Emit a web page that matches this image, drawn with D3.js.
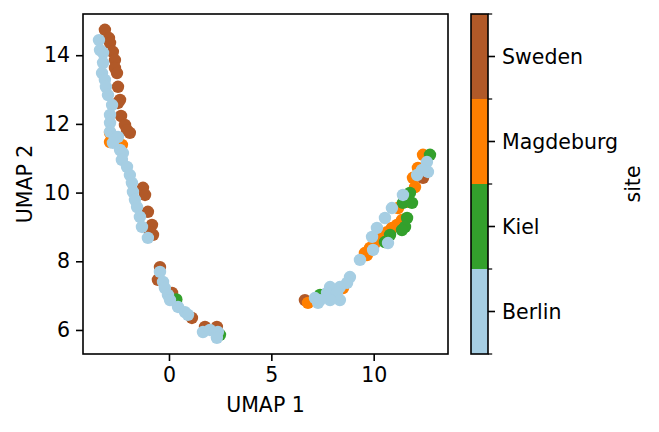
<!DOCTYPE html>
<html><head><meta charset="utf-8">
<script src="https://cdn.jsdelivr.net/npm/d3@7"></script>
<style>body{margin:0;background:#fff}svg{display:block}text{font-family:"DejaVu Sans",sans-serif;fill:#000}</style>
</head><body><svg id="c" width="659" height="432"></svg>
<script>
const sites = ["Berlin", "Kiel", "Magdeburg", "Sweden"];
const siteColors = ["#a6cee3", "#33a02c", "#ff7f00", "#b15928"];
const xTicks = [0, 5, 10];
const yTicks = [6, 8, 10, 12, 14];

const swedenX = [-3.13,-2.93,-2.88,-2.74,-2.64,-2.64,-2.54,-2.49,-2.39,-2.49,-2.34,-2.15,-1.91,-2.05,-1.27,-1.17,-1.03,-0.83,-0.78,-0.93,-0.44,-0.54,0.15,1.12,1.76,2.34,12.41,6.64];
const swedenY = [14.74,14.50,14.36,14.10,13.86,13.63,13.48,13.08,12.70,12.61,12.23,11.97,11.74,11.82,10.14,9.93,9.44,9.06,8.77,8.85,7.83,7.46,7.08,6.35,6.09,6.09,10.43,6.87];

const magdeburgX = [-2.88,-2.88,-2.30,12.41,12.16,11.92,12.02,11.63,11.19,11.38,11.14,10.89,10.65,10.31,10.06,9.82,9.67,9.57,8.50,6.79];
const magdeburgY = [11.74,11.47,11.39,11.10,10.72,10.43,10.16,9.73,9.55,9.20,9.06,8.97,8.85,8.68,8.53,8.39,8.18,8.24,7.22,6.79];

const kielX = [0.36,2.49,12.75,11.77,11.43,11.87,11.63,11.53,11.38,10.80,10.55,7.38];
const kielY = [6.89,5.86,11.10,9.99,9.70,9.70,9.26,9.00,8.91,8.77,8.56,7.02];

const berlinX = [-3.42,-3.37,-3.22,-3.22,-3.27,-3.13,-3.08,-2.98,-2.78,-2.88,-2.88,-2.88,-2.64,-2.49,-2.74,-2.39,-2.25,-2.30,-2.05,-1.91,-1.81,-1.76,-1.66,-1.56,-1.42,-1.32,-1.03,
  -0.44,-0.29,-0.20,-0.05,0.05,0.44,0.78,0.93,1.66,2.00,2.39,2.34,
  12.60,12.65,12.36,12.12,11.43,10.89,10.55,10.16,9.92,10.70,9.97,9.33,8.84,8.70,8.35,7.87,7.72,8.21,8.35,7.87,7.13,7.28,7.38];
const berlinY = [14.44,14.15,14.07,13.78,13.48,13.28,13.08,12.84,12.55,12.26,12.03,11.77,11.62,11.62,11.45,11.24,11.15,10.95,10.75,10.51,10.28,10.02,9.79,9.58,9.29,9.00,8.68,
  7.69,7.40,7.22,7.02,6.87,6.67,6.52,6.44,5.94,6.00,5.94,5.77,
  10.89,10.60,10.66,10.51,9.93,9.55,9.26,8.97,8.71,8.53,8.33,8.04,7.54,7.37,7.25,7.25,7.08,7.08,6.87,6.87,6.93,6.79,6.87];

// draw order: Sweden, Magdeburg, Kiel, Berlin
const groups = [
  {site: "Sweden", xs: swedenX, ys: swedenY},
  {site: "Magdeburg", xs: magdeburgX, ys: magdeburgY},
  {site: "Kiel", xs: kielX, ys: kielY},
  {site: "Berlin", xs: berlinX, ys: berlinY}
];

const FS = 20.5;
const svg = d3.select("#c");
const L = 83, R = 448, T = 14, B = 354;
const x = d3.scaleLinear().domain([-4.2, 13.63]).range([L, R]);
const y = d3.scaleLinear().domain([5.3, 15.2]).range([B, T]);
const color = d3.scaleOrdinal().domain(sites).range(siteColors);

// points
const pts = svg.append("g");
groups.forEach(g => {
  pts.selectAll(null).data(g.xs.map((v, i) => ({x: v, y: g.ys[i]})))
    .enter().append("circle")
    .attr("cx", d => x(d.x)).attr("cy", d => y(d.y)).attr("r", 6.2)
    .attr("fill", color(g.site));
});

// axes
const xAxis = svg.append("g").attr("transform", `translate(0,${B})`)
  .call(d3.axisBottom(x).tickValues(xTicks).tickSize(7).tickPadding(6).tickFormat(d3.format("d")));
const yAxis = svg.append("g").attr("transform", `translate(${L},0)`)
  .call(d3.axisLeft(y).tickValues(yTicks).tickSize(7).tickPadding(6).tickFormat(d3.format("d")));
[xAxis, yAxis].forEach(a => {
  a.select(".domain").remove();
  a.selectAll("line").attr("stroke", "#000").attr("stroke-width", 1.6);
  a.selectAll("text").style("font-size", FS + "px").attr("font-family", "DejaVu Sans");
});
svg.append("rect").attr("x", L).attr("y", T).attr("width", R - L).attr("height", B - T)
  .attr("fill", "none").attr("stroke", "#000").attr("stroke-width", 1.6);

svg.append("text").attr("x", (L + R) / 2).attr("y", 412).attr("text-anchor", "middle")
  .style("font-size", FS + "px").text("UMAP 1");
svg.append("text").attr("transform", `translate(32,${(T + B) / 2}) rotate(-90)`).attr("text-anchor", "middle")
  .style("font-size", FS + "px").text("UMAP 2");

// colorbar
const cbL = 471, cbR = 488;
const cb = d3.scaleLinear().domain([0, sites.length]).range([B, T]);
const cbg = svg.append("g");
sites.forEach((s, i) => {
  cbg.append("rect").attr("x", cbL).attr("y", cb(i + 1)).attr("width", cbR - cbL)
    .attr("height", cb(i) - cb(i + 1)).attr("fill", color(s));
});
cbg.append("rect").attr("x", cbL).attr("y", T).attr("width", cbR - cbL).attr("height", B - T)
  .attr("fill", "none").attr("stroke", "#000").attr("stroke-width", 1.6);
d3.range(sites.length + 1).forEach(i => {
  cbg.append("line").attr("x1", cbR).attr("x2", cbR + 4.2).attr("y1", cb(i)).attr("y2", cb(i))
    .attr("stroke", "#000").attr("stroke-width", 1.2);
});
sites.forEach((s, i) => {
  const yy = cb(i + 0.5);
  cbg.append("line").attr("x1", cbR).attr("x2", cbR + 7).attr("y1", yy).attr("y2", yy)
    .attr("stroke", "#000").attr("stroke-width", 1.6);
  cbg.append("text").attr("x", cbR + 14).attr("y", yy).attr("dy", "0.36em")
    .style("font-size", FS + "px").text(s);
});
svg.append("text").attr("transform", `translate(640,${(T + B) / 2}) rotate(-90)`).attr("text-anchor", "middle")
  .style("font-size", FS + "px").text("site");
</script></body></html>
